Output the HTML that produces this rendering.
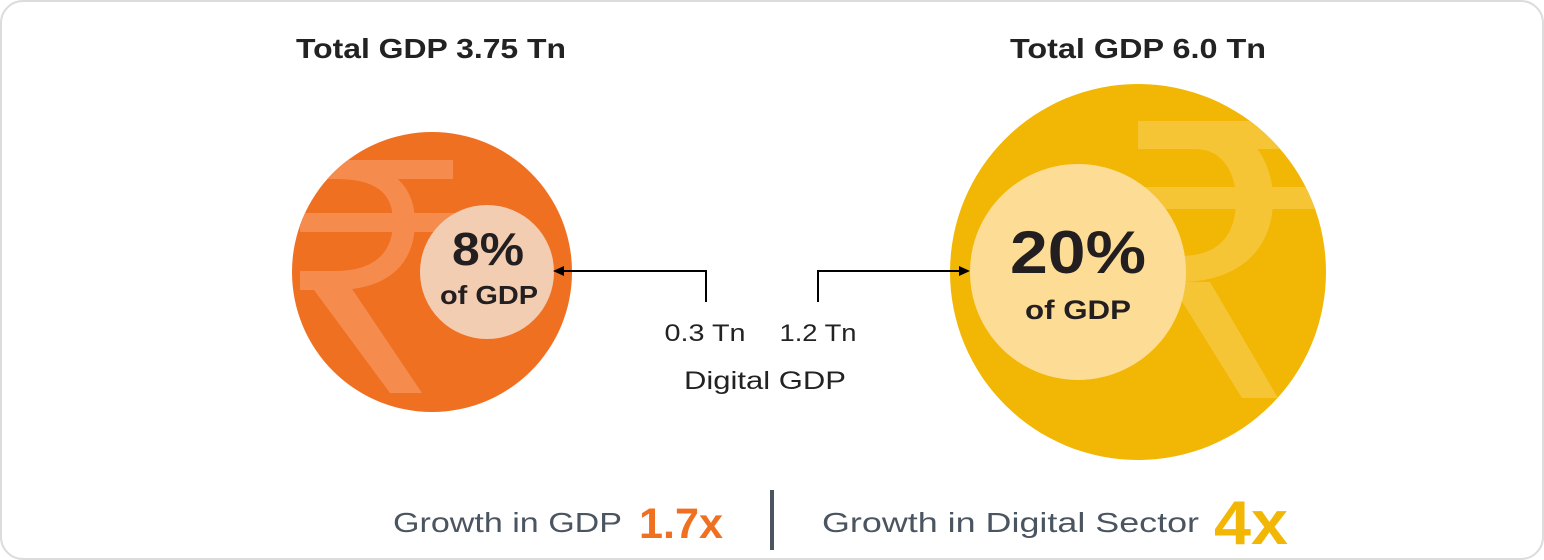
<!DOCTYPE html>
<html><head><meta charset="utf-8"><style>
html,body{margin:0;padding:0;background:#fff;}
svg{display:block;font-family:"Liberation Sans",sans-serif;}
</style></head><body>
<svg width="1544" height="560" viewBox="0 0 1544 560" xmlns="http://www.w3.org/2000/svg">
<defs>
<clipPath id="cl"><circle cx="432" cy="272" r="140"/></clipPath>
<clipPath id="cr"><circle cx="1138" cy="272" r="188"/></clipPath>
</defs>
<rect x="1" y="1" width="1542" height="558" rx="22" fill="#fff" stroke="#dcdcdc" stroke-width="2"/>

<text x="431" y="58" text-anchor="middle" font-size="28" font-weight="bold" fill="#222" textLength="270" lengthAdjust="spacingAndGlyphs">Total GDP 3.75 Tn</text>
<text x="1138" y="58" text-anchor="middle" font-size="28" font-weight="bold" fill="#222" textLength="256" lengthAdjust="spacingAndGlyphs">Total GDP 6.0 Tn</text>

<circle cx="432" cy="272" r="140" fill="#f07022"/>
<g clip-path="url(#cl)" fill="#f58b4c">
<rect x="300" y="160" width="153" height="19"/>
<rect x="300" y="213" width="160" height="19"/>
<path d="M300 160 H335 C390 160 415 185 415 222 C415 262 390 290 335 290 H300 V271 H335 C375 271 393 252 393 222 C393 192 375 179 335 179 H300 Z"/>
<path d="M300 271 H340 L422 393 H390 Z"/>
</g>
<circle cx="487" cy="272" r="67" fill="#f3cdb1"/>
<text x="488" y="265" text-anchor="middle" font-size="46" font-weight="bold" fill="#231f20" textLength="72" lengthAdjust="spacingAndGlyphs">8%</text>
<text x="489" y="304" text-anchor="middle" font-size="26" font-weight="bold" fill="#231f20" textLength="98" lengthAdjust="spacingAndGlyphs">of GDP</text>

<circle cx="1138" cy="272" r="188" fill="#f2b705"/>
<g clip-path="url(#cr)" fill="#f5c535">
<rect x="1138" y="121" width="200" height="28"/>
<rect x="1138" y="187" width="200" height="22"/>
<path d="M1138 121 H1195 C1250 121 1273 160 1273 200 C1273 248 1240 282 1180 282 H1138 V256 H1180 C1222 256 1236 232 1236 200 C1236 172 1222 149 1195 149 H1138 Z"/>
<path d="M1170 282 H1210 L1278 398 H1242 Z"/>
</g>
<circle cx="1078" cy="272" r="108" fill="#fddc95"/>
<text x="1078" y="273" text-anchor="middle" font-size="60" font-weight="bold" fill="#231f20" textLength="136" lengthAdjust="spacingAndGlyphs">20%</text>
<text x="1078" y="319" text-anchor="middle" font-size="27" font-weight="bold" fill="#231f20" textLength="106" lengthAdjust="spacingAndGlyphs">of GDP</text>

<path d="M706 302 V271 H562" fill="none" stroke="#000" stroke-width="2"/>
<path d="M553 271 L564 266 L564 276 Z" fill="#000"/>
<path d="M818 302 V271 H961" fill="none" stroke="#000" stroke-width="2"/>
<path d="M970 271 L959 266 L959 276 Z" fill="#000"/>

<text x="705" y="341" text-anchor="middle" font-size="24" fill="#222" textLength="81" lengthAdjust="spacingAndGlyphs">0.3 Tn</text>
<text x="818" y="341" text-anchor="middle" font-size="24" fill="#222" textLength="77" lengthAdjust="spacingAndGlyphs">1.2 Tn</text>
<text x="765" y="389" text-anchor="middle" font-size="25" fill="#222" textLength="162" lengthAdjust="spacingAndGlyphs">Digital GDP</text>

<text x="393" y="532" font-size="28" fill="#4a5561" textLength="229" lengthAdjust="spacingAndGlyphs">Growth in GDP</text>
<text x="639" y="538" font-size="43" font-weight="bold" fill="#f07022" textLength="84" lengthAdjust="spacingAndGlyphs">1.7x</text>
<rect x="770" y="490" width="4" height="60" fill="#4a5561"/>
<text x="822" y="532" font-size="28" fill="#4a5561" textLength="377" lengthAdjust="spacingAndGlyphs">Growth in Digital Sector</text>
<text x="1214" y="544" font-size="62" font-weight="bold" fill="#f2b705" textLength="74" lengthAdjust="spacingAndGlyphs">4x</text>
</svg>
</body></html>
